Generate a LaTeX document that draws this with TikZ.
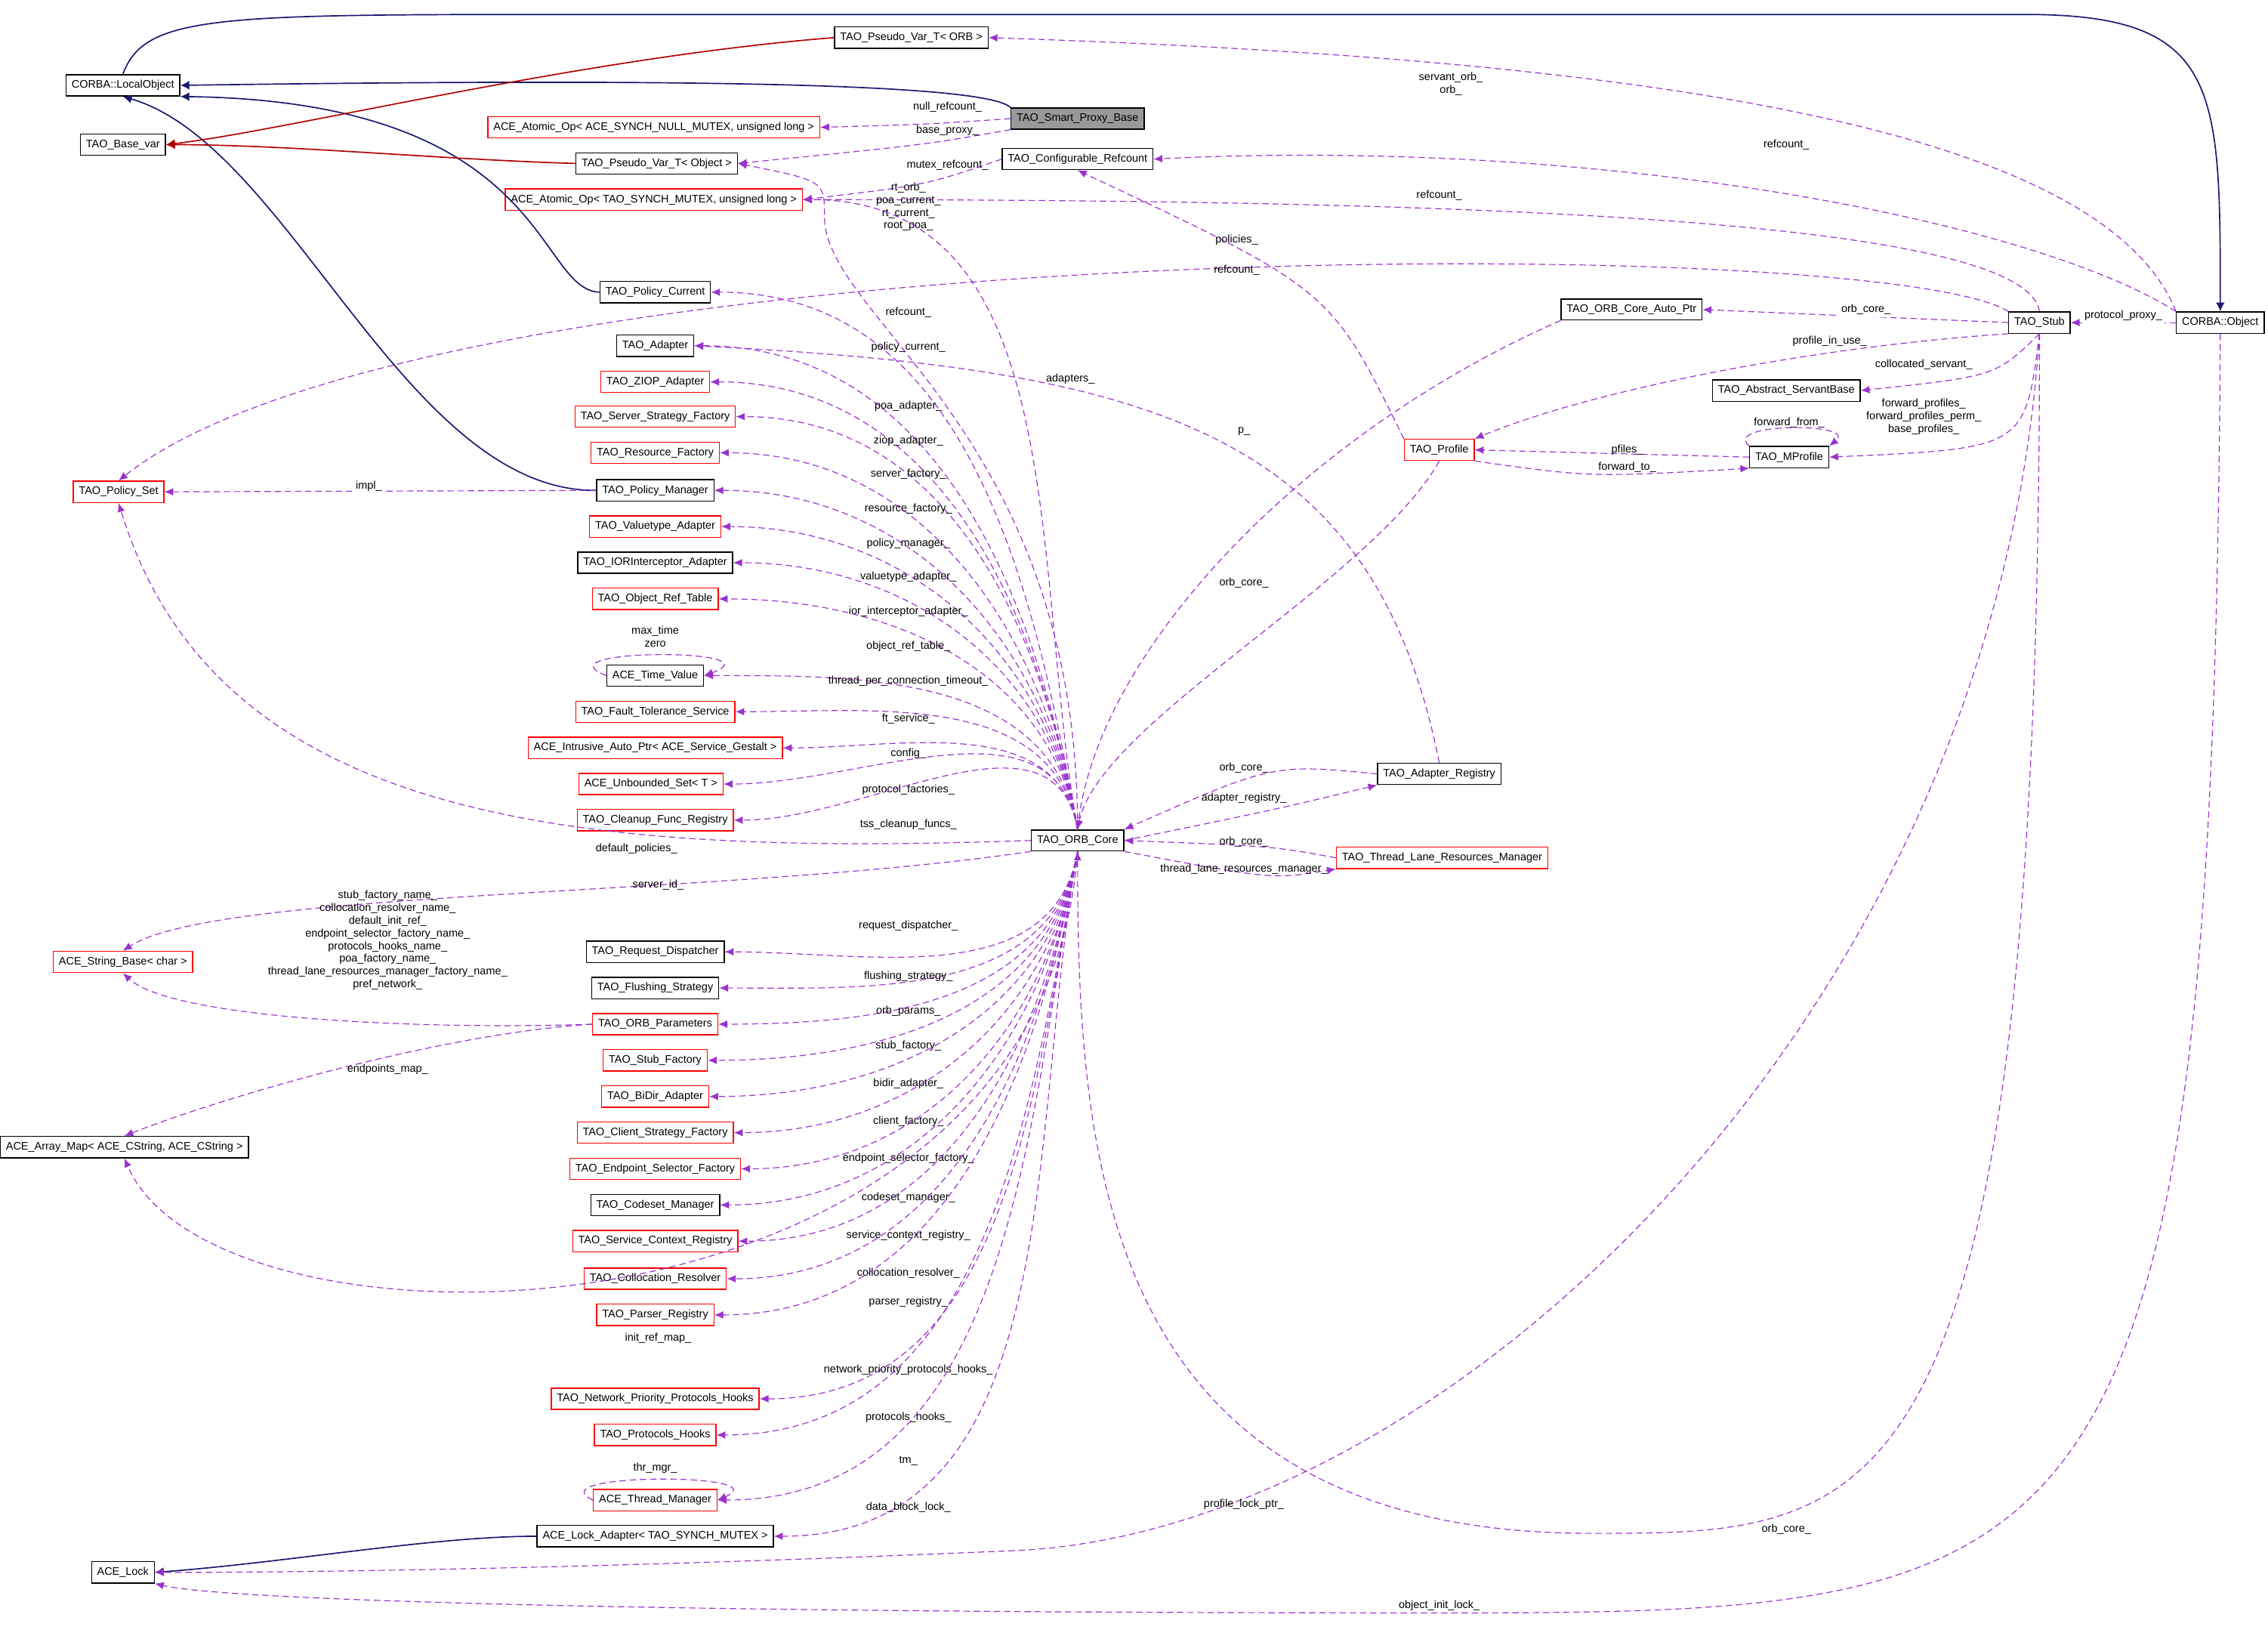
\documentclass[tikz,border=0pt]{standalone}
\usepackage{fontspec}
\setmainfont{Liberation Sans}
\usetikzlibrary{arrows.meta}
\newcommand\fs{\fontsize{4.3}{5}\selectfont}
\definecolor{usec}{HTML}{9A32CD}
\definecolor{inhc}{HTML}{191970}
\tikzset{
 box/.style={draw=black, font=\fs, inner sep=2.2pt, minimum height=7.4pt, line width=0.4pt},
 rbox/.style={box, draw=red},
 gbox/.style={box, fill=black!40},
 use/.style={dashed, usec, line width=0.35pt, dash pattern=on 2.5pt off 1.5pt, -{Latex[length=3.5pt,width=3pt]}},
 inh/.style={inhc, line width=0.5pt, -{Latex[length=3.5pt,width=3.5pt]}},
 rinh/.style={inh, draw=red!70!black, -{Latex[length=3.5pt,width=3.5pt,fill=red!60!black]}},
 lbl/.style={font=\fs, align=center, inner sep=0pt}
}
\begin{document}
\begin{tikzpicture}[x=0.02cm,y=-0.02cm]
\useasboundingbox (0,0) rectangle (1568,1133);
% nodes
\node[box] (lo) at (85,59) {CORBA::LocalObject};
\node[box] (bv) at (85,100) {TAO\_Base\_var};
\node[box] (pvo) at (630,26) {TAO\_Pseudo\_Var\_T< ORB >};
\node[rbox] (an) at (452,88) {ACE\_Atomic\_Op< ACE\_SYNCH\_NULL\_MUTEX, unsigned long >};
\node[gbox] (sp) at (745,82) {TAO\_Smart\_Proxy\_Base};
\node[box] (pvobj) at (454,113) {TAO\_Pseudo\_Var\_T< Object >};
\node[box] (cr) at (745,110) {TAO\_Configurable\_Refcount};
\node[rbox] (am) at (452,138) {ACE\_Atomic\_Op< TAO\_SYNCH\_MUTEX, unsigned long >};
\node[box] (pc) at (453,202) {TAO\_Policy\_Current};
\node[box] (adp) at (453,239) {TAO\_Adapter};
\node[rbox] (ziop) at (453,264) {TAO\_ZIOP\_Adapter};
\node[rbox] (ssf) at (453,288) {TAO\_Server\_Strategy\_Factory};
\node[rbox] (rf) at (453,313) {TAO\_Resource\_Factory};
\node[rbox] (ps) at (82,340) {TAO\_Policy\_Set};
\node[box] (pm) at (453,339) {TAO\_Policy\_Manager};
\node[rbox] (va) at (453,364) {TAO\_Valuetype\_Adapter};
\node[box] (ior) at (453,389) {TAO\_IORInterceptor\_Adapter};
\node[rbox] (ort) at (453,414) {TAO\_Object\_Ref\_Table};
\node[box] (tv) at (453,467) {ACE\_Time\_Value};
\node[rbox] (ft) at (453,492) {TAO\_Fault\_Tolerance\_Service};
\node[rbox] (iap) at (453,517) {ACE\_Intrusive\_Auto\_Ptr< ACE\_Service\_Gestalt >};
\node[rbox] (us) at (450,542) {ACE\_Unbounded\_Set< T >};
\node[rbox] (cfr) at (453,567) {TAO\_Cleanup\_Func\_Registry};
\node[box] (core) at (745,581) {TAO\_ORB\_Core};
\node[box] (rd) at (453,658) {TAO\_Request\_Dispatcher};
\node[box] (fls) at (453,683) {TAO\_Flushing\_Strategy};
\node[rbox] (op) at (453,708) {TAO\_ORB\_Parameters};
\node[rbox] (sf) at (453,733) {TAO\_Stub\_Factory};
\node[rbox] (bd) at (453,758) {TAO\_BiDir\_Adapter};
\node[rbox] (csf) at (453,783) {TAO\_Client\_Strategy\_Factory};
\node[rbox] (esf) at (453,808) {TAO\_Endpoint\_Selector\_Factory};
\node[box] (cm) at (453,833) {TAO\_Codeset\_Manager};
\node[rbox] (scr) at (453,858) {TAO\_Service\_Context\_Registry};
\node[rbox] (cres) at (453,884) {TAO\_Collocation\_Resolver};
\node[rbox] (pr) at (453,909) {TAO\_Parser\_Registry};
\node[rbox] (npph) at (453,967) {TAO\_Network\_Priority\_Protocols\_Hooks};
\node[rbox] (ph) at (453,992) {TAO\_Protocols\_Hooks};
\node[rbox] (tm) at (453,1037) {ACE\_Thread\_Manager};
\node[box] (la) at (453,1062) {ACE\_Lock\_Adapter< TAO\_SYNCH\_MUTEX >};
\node[box] (lock) at (85,1087) {ACE\_Lock};
\node[rbox] (sb) at (85,665) {ACE\_String\_Base< char >};
\node[box] (am2) at (86,793) {ACE\_Array\_Map< ACE\_CString, ACE\_CString >};
\node[box] (ap) at (1128,214) {TAO\_ORB\_Core\_Auto\_Ptr};
\node[box] (stub) at (1410,223) {TAO\_Stub};
\node[box] (obj) at (1535,223) {CORBA::Object};
\node[box] (asb) at (1235,270) {TAO\_Abstract\_ServantBase};
\node[rbox] (prof) at (995,311) {TAO\_Profile};
\node[box] (mp) at (1237,316) {TAO\_MProfile};
\node[box] (ar) at (995,535) {TAO\_Adapter\_Registry};
\node[rbox] (tl) at (997,593) {TAO\_Thread\_Lane\_Resources\_Manager};
% inheritance
\draw[inh] (lo.north) .. controls (100,10) and (150,10) .. (400,10) -- (1400,10) .. controls (1535,10) and (1535,60) .. (obj.north);
\draw[inh] (sp.north west) .. controls (680,55) and (400,55) .. (lo.east);
\draw[inh] (pc.west) .. controls (370,200) and (380,70) .. (lo.south east);
\draw[inh] (pm.west) .. controls (280,340) and (200,100) .. (lo.south);
\draw[rinh] (pvo.west) .. controls (400,40) and (200,90) .. (bv.east);
\draw[rinh] (pvobj.west) .. controls (300,110) and (200,100) .. (bv.east);
\draw[inh] (la.west) .. controls (300,1062) and (200,1080) .. (lock.east);
% uses top
\draw[use] (sp.west) .. controls (640,86) .. (an.east);
\node[lbl] at (655,74) {null\_refcount\_};
\draw[use] (sp.south west) .. controls (640,100) .. (pvobj.east);
\node[lbl] at (655,90) {base\_proxy\_};
\draw[use] (cr.west) .. controls (640,128) .. (am.east);
\node[lbl] at (655,114) {mutex\_refcount\_};
\draw[use] (obj.north west) .. controls (1450,80) and (1100,40) .. (pvo.east);
\node[lbl] at (1003,58) {servant\_orb\_\\orb\_};
\draw[use] (obj.north west) .. controls (1400,150) and (1100,95) .. (cr.east);
\node[lbl] at (1235,100) {refcount\_};
\draw[use] (stub.north) .. controls (1400,150) and (1000,138) .. (am.east);
\node[lbl] at (995,135) {refcount\_};
\draw[use] (stub.north west) .. controls (1300,160) and (300,160) .. (ps.north);
\node[lbl] at (855,166) {policies\_};
\draw[use] (stub.west) -- (ap.east);
\node[lbl,fill=white,inner sep=1pt] at (1290,214) {orb\_core\_};
\draw[use] (stub.south west) .. controls (1250,240) and (1100,270) .. (prof.north east);
\node[lbl] at (1265,236) {profile\_in\_use\_};
\draw[use] (stub.south) .. controls (1380,260) .. (asb.east);
\node[lbl] at (1330,252) {collocated\_servant\_};
\draw[use] (stub.south) .. controls (1400,310) .. (mp.east);
\node[lbl] at (1330,288) {forward\_profiles\_\\forward\_profiles\_perm\_\\base\_profiles\_};
\draw[use] (obj.west) -- (stub.east);
\node[lbl,fill=white,inner sep=1pt] at (1468,218) {protocol\_proxy\_};
\draw[use] (mp.north west) .. controls (1190,292) and (1285,292) .. (mp.north east);
\node[lbl] at (1237,292) {forward\_from\_};
\draw[use] (mp.west) -- (prof.east);
\node[lbl] at (1125,311) {pfiles\_};
\draw[use] (prof.south east) .. controls (1100,330) .. (mp.south west);
\node[lbl] at (1125,323) {forward\_to\_};
\draw[use] (prof.north west) .. controls (920,200) .. (cr.south);
\node[lbl] at (855,187) {refcount\_};
\draw[use] (prof.south) .. controls (950,400) and (760,500) .. (core.north);
\node[lbl] at (860,403) {orb\_core\_};
\draw[use] (ap.south west) .. controls (900,300) and (760,450) .. (core.north);
\node[lbl] at (860,298) {p\_};
\draw[use] (ar.west) .. controls (880,528) .. (core.north east);
\node[lbl] at (860,531) {orb\_core\_};
\draw[use] (core.east) .. controls (880,560) .. (ar.south west);
\node[lbl] at (860,552) {adapter\_registry\_};
\draw[use] (ar.north) .. controls (950,300) and (800,255) .. (adp.east);
\node[lbl] at (740,262) {adapters\_};
\draw[use] (tl.west) .. controls (880,585) .. (core.east);
\node[lbl] at (860,582) {orb\_core\_};
\draw[use] (core.south east) .. controls (880,608) .. (tl.south west);
\node[lbl] at (860,601) {thread\_lane\_resources\_manager\_};
% core upward
\draw[use] (core.north) .. controls (745,300) and (570,220) .. (570,150) .. controls (570,125) .. (pvobj.east);
\node[lbl] at (628,143) {rt\_orb\_\\poa\_current\_\\rt\_current\_\\root\_poa\_};
\foreach \t/\l/\y in {am/refcount\_/216, pc/policy\_current\_/240, adp/poa\_adapter\_/281, ziop/ziop\_adapter\_/305, ssf/server\_factory\_/328, rf/resource\_factory\_/352, pm/policy\_manager\_/376, va/valuetype\_adapter\_/399, ior/ior\_interceptor\_adapter\_/423, ort/object\_ref\_table\_/447, tv/thread\_per\_connection\_timeout\_/471, ft/ft\_service\_/497, iap/config\_/521, us/protocol\_factories\_/546, cfr/tss\_cleanup\_funcs\_/570}
{ \draw[use] (core.north) to[out=100,in=0] (\t.east); \node[lbl] at (628,\y) {\l}; }
\foreach \t/\l/\y in {rd/request\_dispatcher\_/640, fls/flushing\_strategy\_/675, op/orb\_params\_/699, sf/stub\_factory\_/723, bd/bidir\_adapter\_/749, csf/client\_factory\_/775, esf/endpoint\_selector\_factory\_/801, cm/codeset\_manager\_/828, scr/service\_context\_registry\_/854, cres/collocation\_resolver\_/880, pr/parser\_registry\_/900, npph/network\_priority\_protocols\_hooks\_/947, ph/protocols\_hooks\_/980, tm/tm\_/1010, la/data\_block\_lock\_/1042}
{ \draw[use] (core.south) to[out=-100,in=0] (\t.east); \node[lbl] at (628,\y) {\l}; }
\draw[use] (core.west) .. controls (400,592) and (150,570) .. (ps.south);
\node[lbl] at (440,587) {default\_policies\_};
\draw[use] (core.south west) .. controls (500,620) and (150,615) .. (sb.north);
\node[lbl] at (455,612) {server\_id\_};
\draw[use] (core.south) .. controls (720,940) and (150,950) .. (am2.south);
\node[lbl] at (455,925) {init\_ref\_map\_};
\draw[use] (op.west) .. controls (300,712) and (120,705) .. (sb.south);
\node[lbl] at (268,650) {stub\_factory\_name\_\\collocation\_resolver\_name\_\\default\_init\_ref\_\\endpoint\_selector\_factory\_name\_\\protocols\_hooks\_name\_\\poa\_factory\_name\_\\thread\_lane\_resources\_manager\_factory\_name\_\\pref\_network\_};
\draw[use] (op.west) .. controls (300,715) and (150,760) .. (am2.north);
\node[lbl] at (268,739) {endpoints\_map\_};
\draw[use] (pm.west) -- (ps.east);
\node[lbl,fill=white,inner sep=1pt] at (255,336) {impl\_};
\draw[use] (tv.west) .. controls (370,448) and (540,448) .. (tv.east);
\node[lbl] at (453,440) {max\_time\\zero};
\draw[use] (tm.west) .. controls (370,1018) and (540,1018) .. (tm.east);
\node[lbl] at (453,1015) {thr\_mgr\_};
% long bottom
\draw[use] (stub.south) .. controls (1410,1060) and (1300,1060) .. (1100,1060) .. controls (760,1060) and (745,800) .. (core.south);
\node[lbl] at (1235,1057) {orb\_core\_};
\draw[use] (stub.south) .. controls (1380,700) and (1000,1060) .. (700,1072) .. controls (400,1085) and (200,1087) .. (lock.east);
\node[lbl] at (860,1040) {profile\_lock\_ptr\_};
\draw[use] (obj.south) .. controls (1530,1100) and (1450,1115) .. (1000,1115) .. controls (400,1115) and (150,1105) .. (lock.south east);
\node[lbl] at (995,1110) {object\_init\_lock\_};
\end{tikzpicture}
\end{document}
